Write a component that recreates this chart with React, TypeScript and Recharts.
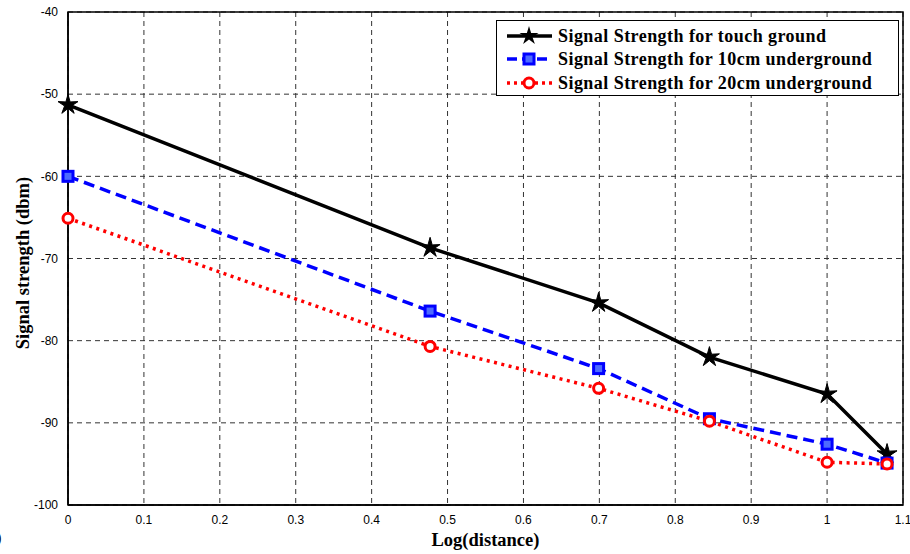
import { LineChart, Line, XAxis, YAxis, CartesianGrid, Legend, ReferenceArea } from "recharts";

const logDistance = [0, 0.477, 0.699, 0.845, 1, 1.079];
const touchGround = [-51.3, -68.7, -75.4, -82.0, -86.5, -93.8];
const under10cm = [-60.0, -76.4, -83.4, -89.5, -92.6, -94.9];
const under20cm = [-65.1, -80.7, -85.8, -89.8, -94.8, -95.0];

const xTicks = [0, 0.1, 0.2, 0.3, 0.4, 0.5, 0.6, 0.7, 0.8, 0.9, 1, 1.1];
const yTicks = [-100, -90, -80, -70, -60, -50, -40];

const data = logDistance.map((x, i) => ({
  x,
  touch: touchGround[i],
  cm10: under10cm[i],
  cm20: under20cm[i],
}));

const serif = "'Liberation Serif', 'Times New Roman', serif";
const sans = "'Liberation Sans', Arial, sans-serif";

const starPoints = (cx: number, cy: number, ro: number, ri: number) => {
  const pts: string[] = [];
  for (let k = 0; k < 10; k++) {
    const r = k % 2 === 0 ? ro : ri;
    const a = -Math.PI / 2 + (k * Math.PI) / 5;
    pts.push(`${cx + r * Math.cos(a)},${cy + r * Math.sin(a)}`);
  }
  return pts.join(" ");
};

const Star = (props: any) => {
  const { cx, cy } = props;
  if (cx == null || cy == null) return null;
  return <polygon points={starPoints(cx, cy, 10.5, 3.6)} fill="#000" stroke="#000" strokeWidth={1} />;
};

const Square = (props: any) => {
  const { cx, cy } = props;
  if (cx == null || cy == null) return null;
  return <rect x={cx - 5} y={cy - 5} width={10} height={10} fill="#4d6bff" stroke="#0000ff" strokeWidth={3} />;
};

const Ring = (props: any) => {
  const { cx, cy } = props;
  if (cx == null || cy == null) return null;
  return <circle cx={cx} cy={cy} r={5} fill="#fff" stroke="#ff0000" strokeWidth={3} />;
};

const legendRows = [
  { label: "Signal Strength for touch ground", color: "#000", dash: undefined, mark: "star" },
  { label: "Signal Strength for 10cm underground", color: "#0000ff", dash: "10 5", mark: "square" },
  { label: "Signal Strength for 20cm underground", color: "#ff0000", dash: "3 4", mark: "ring" },
];

const LegendBox = () => (
  <div
    style={{
      width: 403,
      height: 76,
      border: "1.5px solid #000",
      background: "#fff",
      boxSizing: "border-box",
      padding: "3px 0 0 9px",
    }}
  >
    {legendRows.map((r) => (
      <div key={r.label} style={{ display: "flex", alignItems: "center", height: 23.5 }}>
        <svg width={52} height={20}>
          <line x1={1} y1={10} x2={46} y2={10} stroke={r.color} strokeWidth={3.5} strokeDasharray={r.dash} />
          {r.mark === "star" && <polygon points={starPoints(23, 10, 10, 3.6)} fill="#000" />}
          {r.mark === "square" && <rect x={18} y={5} width={10} height={10} fill="#4d6bff" stroke="#0000ff" strokeWidth={3} />}
          {r.mark === "ring" && <circle cx={23} cy={10} r={5} fill="#fff" stroke="#ff0000" strokeWidth={3} />}
        </svg>
        <span style={{ fontFamily: serif, fontWeight: "bold", fontSize: 18, lineHeight: "20px", letterSpacing: 0.45, color: "#000" }}>
          {r.label}
        </span>
      </div>
    ))}
  </div>
);

const tickStyle = { fontFamily: sans, fontSize: 12, fill: "#000" };

export default function App() {
  return (
    <div style={{ position: "absolute", left: 0, top: 0, width: 910, height: 554, background: "#fff" }}>
      <LineChart width={910} height={554} data={data} margin={{ top: 12, right: 7, left: 8, bottom: 0 }}>
        <CartesianGrid stroke="#333" strokeDasharray="5 4" strokeWidth={1} />
        <ReferenceArea x1={0} x2={1.1} y1={-100} y2={-40} fill="none" stroke="#000" strokeWidth={1.5} ifOverflow="visible" />
        <XAxis
          type="number"
          dataKey="x"
          domain={[0, 1.1]}
          ticks={xTicks}
          interval={0}
          tickLine={false}
          tickMargin={4}
          axisLine={{ stroke: "#000", strokeWidth: 1.5 }}
          tick={tickStyle}
          height={49}
          label={{
            content: (p: any) => {
              const vb = p.viewBox;
              return (
                <text x={vb.x + vb.width / 2} y={546} textAnchor="middle" fontFamily={serif} fontWeight="bold" fontSize={18.5} fill="#000">
                  Log(distance)
                </text>
              );
            },
          }}
        />
        <YAxis
          type="number"
          domain={[-100, -40]}
          ticks={yTicks}
          interval={0}
          tickLine={false}
          tickMargin={4}
          axisLine={{ stroke: "#000", strokeWidth: 1.5 }}
          tick={tickStyle}
          width={60}
          label={{
            content: () => (
              <text x={29} y={263} transform="rotate(-90, 29, 263)" textAnchor="middle" fontFamily={serif} fontWeight="bold" fontSize={18.5} fill="#000">
                Signal strength (dbm)
              </text>
            ),
          }}
        />
        <Legend
          layout="vertical"
          align="center"
          verticalAlign="middle"
          wrapperStyle={{ left: 496, top: 20, width: 403 }}
          content={() => <LegendBox />}
        />
        <Line dataKey="touch" stroke="#000" strokeWidth={3.5} dot={<Star />} activeDot={false} isAnimationActive={false} />
        <Line dataKey="cm10" stroke="#0000ff" strokeWidth={3.5} strokeDasharray="11 6" dot={<Square />} activeDot={false} isAnimationActive={false} />
        <Line dataKey="cm20" stroke="#ff0000" strokeWidth={3.5} strokeDasharray="3 4.5" dot={<Ring />} activeDot={false} isAnimationActive={false} />
      </LineChart>
      <div style={{ position: "absolute", left: -3, top: 530, fontFamily: sans, fontSize: 14 }}>)</div>
    </div>
  );
}
